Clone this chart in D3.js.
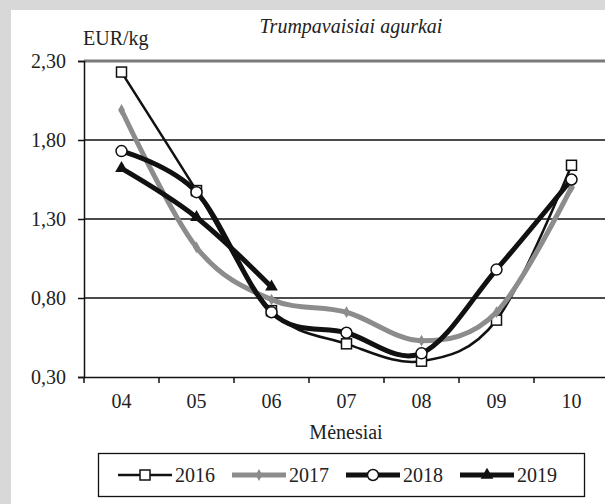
<!DOCTYPE html>
<html>
<head>
<meta charset="utf-8">
<script src="https://cdn.jsdelivr.net/npm/d3@7"></script>
<style>
    body { margin: 0; background: #fff; }
    svg text { font-family: "Liberation Serif", "Times New Roman", Times, "DejaVu Serif", serif; }
</style>
</head>
<body>
<script>
//place script in anon function
(function(){

// data arrays
var months = ["04", "05", "06", "07", "08", "09", "10"];
var years = ["2016", "2017", "2018", "2019"];
var values2016 = [2.23, 1.48, 0.72, 0.51, 0.40, 0.66, 1.64];
var values2017 = [1.99, 1.12, 0.79, 0.71, 0.53, 0.71, 1.50];
var values2018 = [1.73, 1.47, 0.71, 0.58, 0.45, 0.98, 1.55];
var values2019 = [1.62, 1.31, 0.87];
var yTicks = [0.30, 0.80, 1.30, 1.80, 2.30];

// svg dimensions
var width = 605,
    height = 504,
    left = 84,
    right = 609,
    top = 61,
    bottom = 377;

var svg = d3.select("body")
    .append("svg")
    .attr("width", width)
    .attr("height", height);

// gray frame with white panel
svg.append("rect")
    .attr("width", width)
    .attr("height", height)
    .attr("fill", "#d8d8d8");
svg.append("rect")
    .attr("x", 11)
    .attr("y", 10)
    .attr("width", width)
    .attr("height", height)
    .attr("fill", "#fff");

// scales
var x = d3.scaleBand()
    .domain(months)
    .range([left, right]);

var y = d3.scaleLinear()
    .domain([0.30, 2.30])
    .range([bottom, top]);

var fmt = function(d){ return d3.format(".2f")(d).replace(".", ","); };

// gridlines
svg.selectAll(".grid")
    .data(yTicks.slice(1))
    .enter()
    .append("line")
    .attr("x1", left)
    .attr("x2", width)
    .attr("y1", function(d){ return y(d); })
    .attr("y2", function(d){ return y(d); })
    .attr("stroke", function(d){ return d === 2.30 ? "#7a7a7a" : "#111"; })
    .attr("stroke-width", function(d){ return d === 2.30 ? 3 : 1.3; });

// y axis
var yAxis = svg.append("g")
    .attr("transform", "translate(" + left + ",0)")
    .call(d3.axisLeft(y).tickValues(yTicks).tickFormat(fmt).tickSizeOuter(0).tickSize(6).tickPadding(12));

// x axis
var xAxis = svg.append("g")
    .attr("transform", "translate(0," + bottom + ")")
    .call(d3.axisBottom(x).tickSize(0).tickPadding(17));

// x ticks between categories
xAxis.selectAll(".sep")
    .data(months)
    .enter()
    .append("line")
    .attr("x1", function(d){ return x(d); })
    .attr("x2", function(d){ return x(d); })
    .attr("y1", 0)
    .attr("y2", 6)
    .attr("stroke", "#111")
    .attr("stroke-width", 1.5);

[yAxis, xAxis].forEach(function(g){
    g.attr("font-family", null);
    g.select(".domain").attr("stroke", "#111").attr("stroke-width", 1.5);
    g.selectAll(".tick line").attr("stroke", "#111").attr("stroke-width", 1.5);
    g.selectAll("text")
        .attr("font-size", 20)
        .attr("fill", "#222");
});

// axis labels and title
svg.append("text")
    .attr("x", 83)
    .attr("y", 45)
    .attr("font-size", 20)
    .attr("fill", "#222")
    .text("EUR/kg");

svg.append("text")
    .attr("x", 351)
    .attr("y", 33)
    .attr("text-anchor", "middle")
    .attr("font-size", 20)
    .attr("font-style", "italic")
    .attr("fill", "#222")
    .text("Trumpavaisiai agurkai");

svg.append("text")
    .attr("x", 346)
    .attr("y", 439)
    .attr("text-anchor", "middle")
    .attr("font-size", 20)
    .attr("fill", "#222")
    .text("Mėnesiai");

// series styles
var series = [
    {name: years[0], values: values2016, color: "#111", width: 2.5, marker: "square"},
    {name: years[1], values: values2017, color: "#8c8c8c", width: 5, marker: "diamond"},
    {name: years[2], values: values2018, color: "#111", width: 5, marker: "circle"},
    {name: years[3], values: values2019, color: "#111", width: 5, marker: "triangle"}
];

var line = d3.line()
    .x(function(d, i){ return x(months[i]) + x.bandwidth() / 2; })
    .y(function(d){ return y(d); })
    .curve(d3.curveCardinal.tension(0));

// draw a marker at px,py
function drawMarker(g, s, px, py){
    if (s.marker === "square"){
        g.append("rect")
            .attr("x", px - 5).attr("y", py - 5)
            .attr("width", 10).attr("height", 10)
            .attr("fill", "#fff").attr("stroke", "#111").attr("stroke-width", 1.5);
    } else if (s.marker === "circle"){
        g.append("circle")
            .attr("cx", px).attr("cy", py).attr("r", 5.5)
            .attr("fill", "#fff").attr("stroke", "#111").attr("stroke-width", 1.5);
    } else if (s.marker === "diamond"){
        g.append("path")
            .attr("transform", "translate(" + px + "," + py + ")")
            .attr("d", d3.symbol(d3.symbolDiamond, 40)())
            .attr("fill", s.color);
    } else {
        g.append("path")
            .attr("transform", "translate(" + px + "," + py + ")")
            .attr("d", d3.symbol(d3.symbolTriangle, 70)())
            .attr("fill", "#111");
    }
}

series.forEach(function(s){
    var g = svg.append("g");
    g.append("path")
        .attr("d", line(s.values))
        .attr("fill", "none")
        .attr("stroke", s.color)
        .attr("stroke-width", s.width);
    s.values.forEach(function(v, i){
        drawMarker(g, s, x(months[i]) + x.bandwidth() / 2, y(v));
    });
});

// legend
var legend = svg.append("g");
legend.append("rect")
    .attr("x", 98.5)
    .attr("y", 453.5)
    .attr("width", 486)
    .attr("height", 43)
    .attr("fill", "#fff")
    .attr("stroke", "#111")
    .attr("stroke-width", 1.3);

var lx = d3.scalePoint()
    .domain(years)
    .range([118, 460]);

series.forEach(function(s){
    var g = legend.append("g");
    var x0 = lx(s.name);
    g.append("line")
        .attr("x1", x0).attr("x2", x0 + 54)
        .attr("y1", 475).attr("y2", 475)
        .attr("stroke", s.color)
        .attr("stroke-width", s.width);
    drawMarker(g, s, x0 + 27, 475);
    g.append("text")
        .attr("x", x0 + 57)
        .attr("y", 482)
        .attr("font-size", 20)
        .attr("fill", "#222")
        .text(s.name);
});

})();
</script>
</body>
</html>
